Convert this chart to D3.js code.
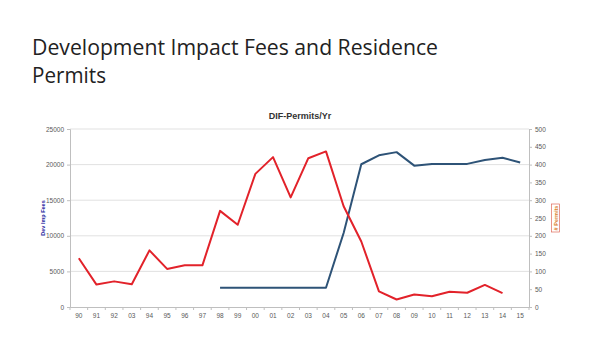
<!DOCTYPE html>
<html>
<head>
<meta charset="utf-8">
<script src="https://cdn.jsdelivr.net/npm/d3@7"></script>
<style>
    body { margin: 0; background: #fff; }
    svg { display: block; }
</style>
</head>
<body>
<script>
// Year labels as printed on the chart (the "03" after 92 is in the original)
var yearLabels = ["90", "91", "92", "03", "94", "95", "96", "97", "98", "99",
    "00", "01", "02", "03", "04", "05", "06", "07", "08", "09", "10", "11",
    "12", "13", "14", "15"];

// Dev Imp Fees (left axis), starts at 98, null = no value
var fees = [null, null, null, null, null, null, null, null, 2700, 2700,
    2700, 2700, 2700, 2700, 2700, 10400, 20050, 21300, 21750, 19850, 20100,
    20100, 20100, 20650, 20950, 20300];

// # Permits (right axis), ends at 14
var permits = [137, 63, 72, 64, 159, 107, 117, 117, 270, 231, 374, 421,
    308, 418, 437, 283, 184, 44, 21, 35, 30, 43, 40, 62, 39, null];

var leftTicks = [0, 5000, 10000, 15000, 20000, 25000];
var rightTicks = [0, 50, 100, 150, 200, 250, 300, 350, 400, 450, 500];

var W = 600, H = 353;
var margin = {top: 129, right: 71, bottom: 46, left: 70},
    width = W - margin.left - margin.right,
    height = H - margin.top - margin.bottom;

var svg = d3.select("body").append("svg")
    .attr("width", W)
    .attr("height", H)
    .style("font-family", "'Liberation Sans', Arial, sans-serif");

// slide title, squeezed to the width of the original (Calibri Light)
svg.append("text")
    .attr("x", 32)
    .attr("y", 55)
    .attr("fill", "#222")
    .attr("textLength", 406)
    .attr("lengthAdjust", "spacingAndGlyphs")
    .style("font-family", "'Open Sans', sans-serif")
    .style("font-size", "22px")
    .text("Development Impact Fees and Residence");
svg.append("text")
    .attr("x", 32)
    .attr("y", 83)
    .attr("fill", "#222")
    .attr("textLength", 74)
    .attr("lengthAdjust", "spacingAndGlyphs")
    .style("font-family", "'Open Sans', sans-serif")
    .style("font-size", "22px")
    .text("Permits");

svg.append("text")
    .attr("x", 300)
    .attr("y", 119)
    .attr("text-anchor", "middle")
    .attr("font-size", "9px")
    .attr("font-weight", "bold")
    .attr("fill", "#333")
    .text("DIF-Permits/Yr");

var g = svg.append("g")
    .attr("transform", "translate(" + margin.left + "," + margin.top + ")");

var idx = d3.range(yearLabels.length);
var xScale = d3.scaleBand().domain(idx).range([0, width]);
var yLeft = d3.scaleLinear().domain([0, 25000]).range([height, 0]);
var yRight = d3.scaleLinear().domain([0, 500]).range([height, 0]);

// gridlines
g.selectAll(".grid")
    .data(leftTicks.slice(1))
    .enter()
    .append("line")
    .attr("x1", 0)
    .attr("x2", width)
    .attr("y1", d => yLeft(d))
    .attr("y2", d => yLeft(d))
    .attr("stroke", "#d9d9d9")
    .attr("stroke-width", 0.8);

// axes
var xAxis = d3.axisBottom(xScale)
    .tickFormat(i => yearLabels[i])
    .tickSize(0)
    .tickPadding(6);
var gx = g.append("g")
    .attr("transform", "translate(0," + height + ")")
    .call(xAxis);
gx.select(".domain").attr("stroke", "#bfbfbf");
// tick marks between categories
gx.selectAll(".sep")
    .data(d3.range(yearLabels.length + 1))
    .enter()
    .append("line")
    .attr("x1", i => i * xScale.step())
    .attr("x2", i => i * xScale.step())
    .attr("y1", 0)
    .attr("y2", 3)
    .attr("stroke", "#bfbfbf");

var gl = g.append("g")
    .call(d3.axisLeft(yLeft).tickValues(leftTicks).tickFormat(d3.format("d"))
        .tickSize(3).tickPadding(3));
gl.select(".domain").attr("stroke", "#bfbfbf");

var gr = g.append("g")
    .attr("transform", "translate(" + width + ",0)")
    .call(d3.axisRight(yRight).tickValues(rightTicks).tickFormat(d3.format("d"))
        .tickSize(3).tickPadding(3));
gr.select(".domain").attr("stroke", "#bfbfbf");

g.selectAll(".tick line").attr("stroke", "#bfbfbf");
g.selectAll(".tick text")
    .attr("fill", "#595959")
    .attr("font-size", "6.5px")
    .style("font-family", "'Liberation Sans', Arial, sans-serif");

// axis titles
svg.append("text")
    .attr("transform", "translate(45," + (margin.top + height / 2) + ") rotate(-90)")
    .attr("text-anchor", "middle")
    .attr("font-size", "5.5px")
    .attr("font-weight", "bold")
    .attr("fill", "#1f1fa0")
    .text("Dev Imp Fees");

var rl = svg.append("g")
    .attr("transform", "translate(556,218) rotate(-90)");
rl.append("rect")
    .attr("x", -14)
    .attr("y", -4.5)
    .attr("width", 28)
    .attr("height", 8)
    .attr("fill", "none")
    .attr("stroke", "#e06a5a")
    .attr("stroke-width", 0.7);
rl.append("text")
    .attr("text-anchor", "middle")
    .attr("y", 2)
    .attr("font-size", "5.5px")
    .attr("font-weight", "bold")
    .attr("fill", "#d9822b")
    .text("# Permits");

var cx = i => xScale(i) + xScale.bandwidth() / 2;

var feeLine = d3.line()
    .defined(i => fees[i] != null)
    .x(cx)
    .y(i => yLeft(fees[i]));

var permitLine = d3.line()
    .defined(i => permits[i] != null)
    .x(cx)
    .y(i => yRight(permits[i]));

g.append("path")
    .datum(idx)
    .attr("d", feeLine)
    .attr("fill", "none")
    .attr("stroke", "#2e5377")
    .attr("stroke-width", 2)
    .attr("stroke-linejoin", "round");

g.append("path")
    .datum(idx)
    .attr("d", permitLine)
    .attr("fill", "none")
    .attr("stroke", "#e2222a")
    .attr("stroke-width", 2)
    .attr("stroke-linejoin", "round");
</script>
</body>
</html>
